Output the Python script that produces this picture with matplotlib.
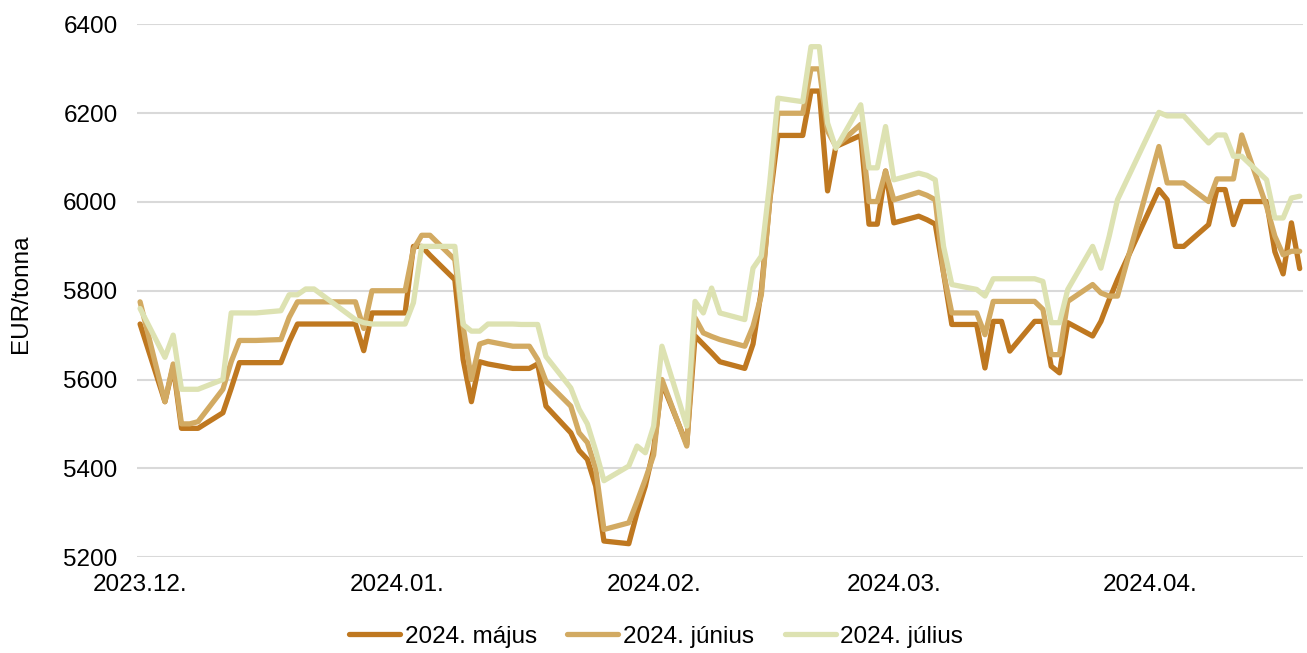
import matplotlib
matplotlib.use("Agg")
import matplotlib.pyplot as plt
import pandas as pd

plt.rcParams["font.family"] = ["Liberation Sans", "DejaVu Sans"]

# business days (no Dec 25-26, Jan 1, Mar 29, Apr 1)
dates = (
    ["2023-12-%02d" % d for d in [1, 4, 5, 6, 7, 8, 11, 12, 13, 14, 15, 18, 19, 20, 21, 22, 27, 28, 29]]
    + ["2024-01-%02d" % d for d in [2, 3, 4, 5, 8, 9, 10, 11, 12, 15, 16, 17, 18, 19, 22, 23, 24, 25, 26, 29, 30, 31]]
    + ["2024-02-%02d" % d for d in [1, 2, 5, 6, 7, 8, 9, 12, 13, 14, 15, 16, 19, 20, 21, 22, 23, 26, 27, 28, 29]]
    + ["2024-03-%02d" % d for d in [1, 4, 5, 6, 7, 8, 11, 12, 13, 14, 15, 18, 19, 20, 21, 22, 25, 26, 27, 28]]
    + ["2024-04-%02d" % d for d in [2, 3, 4, 5, 8, 9, 10, 11, 12, 15, 16, 17, 18, 19]]
)

majus = [
    5725, 5550, 5630, 5490, 5490, 5490, 5525, 5580, 5638, 5638, 5638, 5638, 5685, 5725, 5725, 5725, 5725, 5665, 5750,
    5750, 5900, 5900, 5880, 5825, 5645, 5550, 5640, 5635, 5625, 5625, 5625, 5635, 5540, 5480, 5440, 5420, 5360, 5236, 5230, 5300, 5360,
    5443, 5593, 5454, 5698, 5679, 5660, 5640, 5625, 5680, 5800, 6000, 6150, 6150, 6250, 6250, 6025, 6125, 6150, 5950, 5950, 6070,
    5953, 5968, 5960, 5950, 5840, 5724, 5724, 5626, 5731, 5731, 5664, 5731, 5731, 5630, 5615, 5728, 5698, 5731, 5780, 5825,
    6028, 6005, 5900, 5900, 5949, 6028, 6028, 5949, 6001, 6001, 5888, 5838, 5953, 5850,
]
junius = [
    5775, 5550, 5635, 5500, 5500, 5505, 5578, 5640, 5688, 5688, 5688, 5690, 5740, 5775, 5775, 5775, 5775, 5715, 5800,
    5800, 5893, 5925, 5925, 5870, 5720, 5600, 5680, 5686, 5675, 5675, 5675, 5645, 5596, 5540, 5480, 5458, 5400, 5262, 5277, 5325, 5375,
    5430, 5600, 5450, 5739, 5705, 5697, 5690, 5675, 5720, 5790, 6000, 6200, 6200, 6300, 6300, 6160, 6125, 6175, 6001, 6001, 6069,
    6005, 6022, 6015, 6005, 5841, 5750, 5750, 5701, 5776, 5776, 5776, 5776, 5758, 5656, 5656, 5776, 5814, 5795, 5788, 5788,
    6125, 6043, 6043, 6043, 6001, 6052, 6052, 6052, 6151, 5990, 5923, 5881, 5889, 5889,
]
julius = [
    5760, 5650, 5700, 5578, 5578, 5578, 5600, 5750, 5750, 5750, 5750, 5755, 5791, 5791, 5804, 5804, 5735, 5728, 5725,
    5725, 5773, 5900, 5900, 5900, 5724, 5709, 5709, 5725, 5725, 5724, 5724, 5724, 5652, 5581, 5533, 5500, 5440, 5372, 5405, 5450, 5435,
    5495, 5675, 5495, 5776, 5750, 5806, 5750, 5735, 5851, 5878, 6040, 6234, 6226, 6350, 6350, 6178, 6121, 6219, 6077, 6077, 6170,
    6050, 6065, 6060, 6050, 5900, 5814, 5803, 5788, 5827, 5827, 5827, 5827, 5821, 5728, 5728, 5803, 5900, 5851, 5923, 6005,
    6202, 6194, 6194, 6194, 6133, 6151, 6151, 6103, 6103, 6050, 5964, 5964, 6009, 6013,
]

series_names = ["2024. május", "2024. június", "2024. július"]
colors = ["#BF7820", "#D2AA62", "#DDE2B2"]
month_ticks = ["2023-12-01", "2024-01-01", "2024-02-01", "2024-03-01", "2024-04-01"]
month_labels = ["2023.12.", "2024.01.", "2024.02.", "2024.03.", "2024.04."]

x = pd.to_datetime(dates)

fig = plt.figure(figsize=(13.07, 6.53), dpi=100)
ax = fig.add_axes([0.1048, 0.147, 0.892, 0.8155])

for vals, name, c in zip([majus, junius, julius], series_names, colors):
    ax.plot(x, vals, color=c, lw=3.8, label=name, solid_joinstyle="round", solid_capstyle="round")

ax.set_ylim(5200, 6400)
ax.set_yticks(range(5200, 6401, 200))
ax.set_xlim(pd.Timestamp("2023-12-01") - pd.Timedelta(hours=9), pd.Timestamp("2024-04-19") + pd.Timedelta(hours=9))
ax.set_xticks(pd.to_datetime(month_ticks))
ax.set_xticklabels(month_labels)

ax.grid(axis="y", color="#D9D9D9", lw=1.5)
ax.set_axisbelow(True)
for s in ax.spines.values():
    s.set_visible(False)
ax.tick_params(axis="both", length=0, labelsize=17.5, colors="black")
ax.tick_params(axis="y", pad=14)
ax.tick_params(axis="x", pad=12)

fig.text(0.016, 0.55, "EUR/tonna", rotation=90, ha="center", va="center", fontsize=17.5)

fig.legend(loc="center", bbox_to_anchor=(0.502, 0.025), ncol=3, frameon=False, fontsize=17.5,
           handlelength=2.1, handletextpad=0.2, columnspacing=1.25)

fig.savefig("out.png", dpi=100)
